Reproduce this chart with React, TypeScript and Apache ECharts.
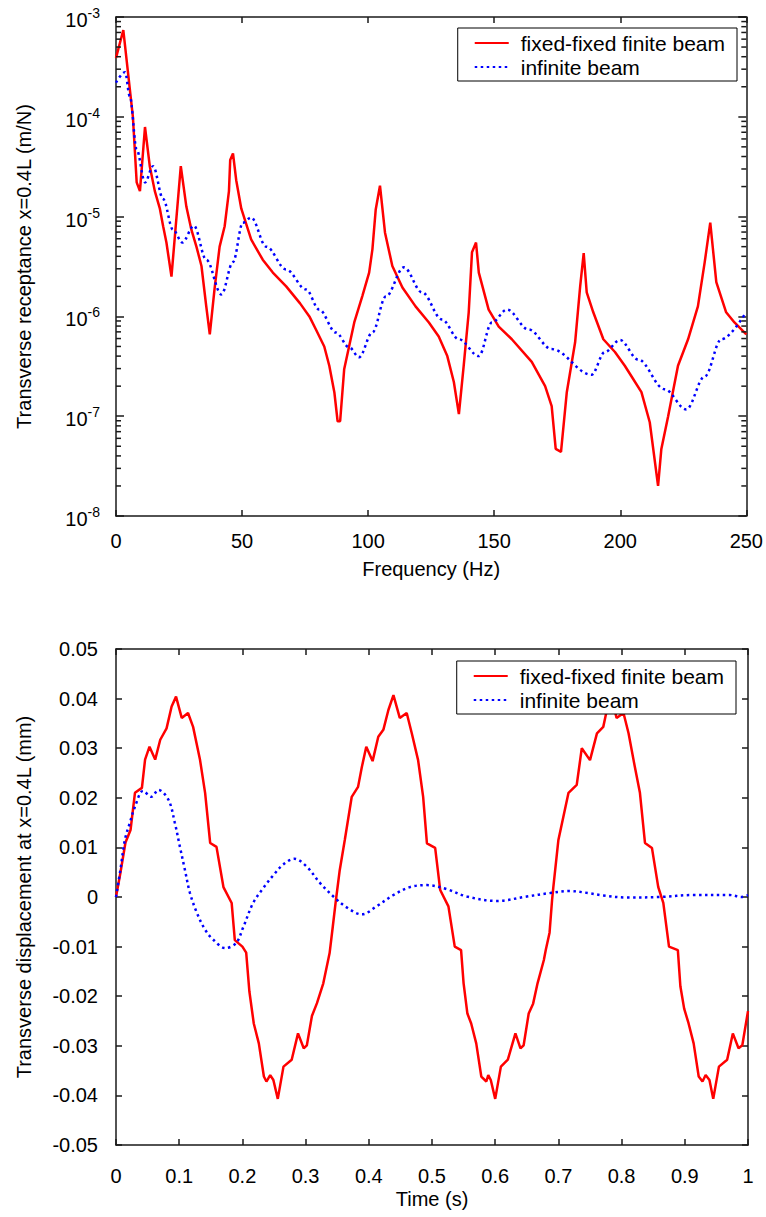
import React, { useEffect, useRef } from 'react';
import * as echarts from 'echarts';

// ---------- Top chart: frequency response (log scale) ----------
const freqTicks = [0, 50, 100, 150, 200, 250];
const legendNames = ['fixed-fixed finite beam', 'infinite beam'];

const finiteFRF: [number, number][] = [
  [0, 3.9e-4], [2.9, 7.4e-4], [6.7, 1.0e-4], [8.2, 2.2e-5], [9.5, 1.8e-5], [11.5, 7.9e-5],
  [13.4, 3.2e-5], [15.4, 1.8e-5], [17.4, 1.2e-5], [18.7, 8.0e-6], [20.0, 5.5e-6], [22.0, 2.5e-6],
  [25.7, 3.2e-5], [27.9, 1.26e-5], [29.9, 7.4e-6], [31.9, 5.0e-6], [33.9, 3.2e-6], [35.8, 1.26e-6],
  [37.2, 6.6e-7], [39.1, 1.9e-6], [41.1, 5.0e-6], [43.1, 8.0e-6], [44.8, 1.8e-5], [45.3, 3.7e-5],
  [46.4, 4.3e-5], [47.7, 2.3e-5], [49.7, 1.2e-5], [53.6, 5.9e-6], [58.2, 3.7e-6], [62.2, 2.75e-6],
  [67.5, 2.0e-6], [73.0, 1.35e-6], [76.7, 1.0e-6], [79.3, 7.4e-7], [82.6, 5.0e-7], [84.6, 3.2e-7],
  [86.6, 1.74e-7], [87.9, 8.9e-8], [88.9, 8.9e-8], [90.5, 2.95e-7], [94.5, 8.7e-7], [97.7, 1.6e-6],
  [100.4, 2.75e-6], [101.7, 4.7e-6], [103.0, 1.17e-5], [104.7, 2.04e-5], [106.7, 6.9e-6], [109.6, 3.2e-6],
  [113.6, 1.95e-6], [118.8, 1.26e-6], [124.1, 8.7e-7], [128.0, 6.3e-7], [131.4, 4.0e-7], [134.0, 2.2e-7],
  [136.0, 1.05e-7], [137.9, 3.2e-7], [139.9, 1.1e-6], [141.2, 4.4e-6], [142.8, 5.5e-6], [143.9, 2.75e-6],
  [147.8, 1.17e-6], [151.8, 7.9e-7], [157.0, 5.9e-7], [164.9, 3.5e-7], [170.2, 2.0e-7], [172.8, 1.26e-7],
  [174.4, 4.7e-8], [176.5, 4.4e-8], [178.8, 1.74e-7], [182.1, 5.5e-7], [184.1, 2.0e-6], [185.5, 4.3e-6],
  [186.7, 1.74e-6], [189.3, 1.1e-6], [193.3, 5.9e-7], [197.9, 4.4e-7], [201.8, 3.2e-7], [204.5, 2.5e-7],
  [208.4, 1.74e-7], [211.7, 8.7e-8], [215.0, 2.0e-8], [216.3, 4.7e-8], [219.0, 1.0e-7], [222.9, 3.2e-7],
  [226.9, 5.9e-7], [230.8, 1.26e-6], [233.5, 3.5e-6], [235.7, 8.7e-6], [238.1, 2.2e-6], [242.0, 1.1e-6],
  [245.3, 8.7e-7], [250.0, 6.6e-7],
];

const infiniteFRF: [number, number][] = [
  [0, 2.2e-4], [3.6, 2.8e-4], [5.5, 1.6e-4], [8.2, 4.7e-5], [11.5, 2.2e-5], [14.7, 3.2e-5],
  [18.7, 1.5e-5], [22.6, 7.4e-6], [26.3, 5.5e-6], [30.9, 8.1e-6], [35.8, 3.7e-6], [41.8, 1.66e-6],
  [46.4, 3.5e-6], [50.3, 8.7e-6], [53.6, 9.8e-6], [59.6, 5.0e-6], [67.5, 2.95e-6], [75.4, 1.86e-6],
  [80.6, 1.17e-6], [87.2, 6.9e-7], [92.5, 4.9e-7], [96.4, 3.9e-7], [101.7, 6.9e-7], [107.0, 1.58e-6],
  [114.2, 3.1e-6], [121.4, 1.74e-6], [129.3, 9.3e-7], [136.0, 5.9e-7], [143.9, 4.0e-7], [149.1, 8.7e-7],
  [155.1, 1.17e-6], [163.6, 7.4e-7], [172.8, 4.7e-7], [188.6, 2.6e-7], [193.9, 4.4e-7], [199.9, 5.8e-7],
  [207.1, 3.7e-7], [217.6, 1.86e-7], [226.2, 1.17e-7], [233.5, 2.5e-7], [240.1, 5.9e-7], [249.9, 1.1e-6],
];

// minor ticks of the log axis (2..9 x 10^n)
const minorTickValues: number[] = [
  2e-8, 3e-8, 4e-8, 5e-8, 6e-8, 7e-8, 8e-8, 9e-8,
  2e-7, 3e-7, 4e-7, 5e-7, 6e-7, 7e-7, 8e-7, 9e-7,
  2e-6, 3e-6, 4e-6, 5e-6, 6e-6, 7e-6, 8e-6, 9e-6,
  2e-5, 3e-5, 4e-5, 5e-5, 6e-5, 7e-5, 8e-5, 9e-5,
  2e-4, 3e-4, 4e-4, 5e-4, 6e-4, 7e-4, 8e-4, 9e-4,
];

// ---------- Bottom chart: time response ----------
const finiteDisp: [number, number][] = [
  [0, 0], [0.007, 0.0049], [0.015, 0.011], [0.023, 0.0135], [0.030, 0.021], [0.041, 0.022],
  [0.046, 0.0277], [0.053, 0.0303], [0.062, 0.0277], [0.070, 0.0317], [0.080, 0.034], [0.088, 0.0384],
  [0.095, 0.0404], [0.104, 0.0361], [0.114, 0.0371], [0.122, 0.0343], [0.133, 0.0276], [0.141, 0.021],
  [0.149, 0.0109], [0.159, 0.0101], [0.170, 0.002], [0.183, -0.0012], [0.188, -0.0087], [0.200, -0.010],
  [0.206, -0.0112], [0.211, -0.019], [0.218, -0.0255], [0.226, -0.0295], [0.234, -0.0362], [0.238, -0.0372],
  [0.244, -0.0359], [0.249, -0.0369], [0.256, -0.0407], [0.265, -0.0342], [0.278, -0.0328], [0.288, -0.0275],
  [0.297, -0.0305], [0.302, -0.0299], [0.310, -0.024], [0.318, -0.0214], [0.328, -0.0174], [0.338, -0.0113],
  [0.343, -0.006], [0.348, -0.0006], [0.354, 0.0054], [0.362, 0.0115], [0.373, 0.0202], [0.383, 0.0222],
  [0.389, 0.0262], [0.396, 0.0303], [0.406, 0.0274], [0.415, 0.0323], [0.423, 0.0337], [0.431, 0.0377],
  [0.439, 0.0407], [0.449, 0.0361], [0.460, 0.0371], [0.468, 0.033], [0.478, 0.0276], [0.486, 0.0202],
  [0.492, 0.0108], [0.505, 0.0099], [0.513, 0.0014], [0.526, -0.0019], [0.536, -0.010], [0.546, -0.0107],
  [0.550, -0.0174], [0.556, -0.0235], [0.562, -0.0255], [0.570, -0.0295], [0.578, -0.0362], [0.586, -0.0372],
  [0.589, -0.0359], [0.593, -0.0369], [0.600, -0.0407], [0.609, -0.0342], [0.620, -0.0328], [0.632, -0.0275],
  [0.640, -0.0305], [0.645, -0.0299], [0.653, -0.0235], [0.660, -0.0215], [0.667, -0.0174], [0.677, -0.0127],
  [0.680, -0.0107], [0.686, -0.0072], [0.690, -0.0006], [0.692, 0.002], [0.700, 0.0115], [0.716, 0.021],
  [0.729, 0.0226], [0.737, 0.030], [0.750, 0.0276], [0.761, 0.033], [0.771, 0.0343], [0.776, 0.0373],
  [0.784, 0.0405], [0.792, 0.0361], [0.803, 0.0371], [0.811, 0.033], [0.821, 0.0262], [0.829, 0.021],
  [0.837, 0.0109], [0.848, 0.0099], [0.858, 0.002], [0.866, -0.0012], [0.875, -0.010], [0.889, -0.0107],
  [0.893, -0.018], [0.899, -0.0225], [0.906, -0.0255], [0.914, -0.0295], [0.922, -0.0362], [0.928, -0.0372],
  [0.933, -0.0359], [0.939, -0.0369], [0.945, -0.0407], [0.954, -0.0342], [0.967, -0.0328], [0.976, -0.0275],
  [0.985, -0.0305], [0.991, -0.0299], [1.0, -0.023],
];

const infiniteDisp: [number, number][] = [
  [0, 0], [0.007, 0.0055], [0.014, 0.0115], [0.022, 0.015], [0.030, 0.0182], [0.043, 0.0214],
  [0.056, 0.0202], [0.067, 0.0216], [0.083, 0.0196], [0.093, 0.015], [0.101, 0.0102], [0.109, 0.0055],
  [0.117, 0.0008], [0.128, -0.0032], [0.141, -0.0066], [0.153, -0.0085], [0.173, -0.0103], [0.190, -0.0093],
  [0.201, -0.0062], [0.217, -0.0012], [0.233, 0.0018], [0.249, 0.0044], [0.265, 0.0066], [0.282, 0.0077],
  [0.302, 0.0061], [0.323, 0.0028], [0.344, 0.0001], [0.365, -0.0021], [0.389, -0.0035], [0.412, -0.0019],
  [0.439, 0.0004], [0.465, 0.002], [0.492, 0.0024], [0.523, 0.0016], [0.555, 0.0001], [0.602, -0.0008],
  [0.650, 0.0001], [0.687, 0.0008], [0.718, 0.0012], [0.747, 0.0008], [0.771, 0.0003], [0.808, -0.0001],
  [0.861, 0.0], [0.913, 0.0004], [0.971, 0.0004], [0.990, 0.0], [1.0, 0.0004],
];

const FONT = 'Liberation Sans, Arial, Helvetica, sans-serif';
const AXIS_COLOR = '#1a1a1a';
const RED = '#ff0000';
const BLUE = '#0000ff';

function buildOption(): any {
  const axisLine = { show: true, onZero: false, lineStyle: { color: AXIS_COLOR, width: 1.5 } };
  const tickIn = (len: number) => ({ show: true, inside: true, length: len, lineStyle: { color: AXIS_COLOR, width: 1.5 } });
  const labelStyle = { color: '#000', fontSize: 20, fontFamily: FONT };

  const legendCommon = {
    orient: 'vertical',
    data: legendNames,
    backgroundColor: '#fff',
    borderColor: '#000',
    borderWidth: 1,
    itemWidth: 34,
    itemHeight: 14,
    itemGap: 2,
    selectedMode: false,
    itemStyle: { opacity: 0 },
    textStyle: { color: '#000', fontSize: 21, fontFamily: FONT, lineHeight: 22, padding: [0, 0, 0, 7] },
    padding: [4, 12, 3, 16],
    z: 20,
  };

  return {
    animation: false,
    backgroundColor: '#fff',
    textStyle: { fontFamily: FONT },
    grid: [
      { left: 116, top: 17, width: 632, height: 499, containLabel: false },
      { left: 116, top: 649, width: 632, height: 496, containLabel: false },
    ],
    legend: [
      { ...legendCommon, right: 29, top: 28 },
      { ...legendCommon, right: 30, top: 661 },
    ],
    xAxis: [
      {
        gridIndex: 0, type: 'value', min: freqTicks[0], max: freqTicks[freqTicks.length - 1], interval: 50,
        position: 'bottom', axisLine, axisTick: tickIn(6), splitLine: { show: false },
        axisLabel: { ...labelStyle, margin: 15 },
        name: 'Frequency (Hz)', nameLocation: 'middle', nameGap: 43,
        nameTextStyle: { color: '#000', fontSize: 20, fontFamily: FONT },
      },
      {
        gridIndex: 0, type: 'value', min: 0, max: 250, interval: 50, position: 'top',
        axisLine, axisTick: tickIn(6), axisLabel: { show: false }, splitLine: { show: false },
      },
      {
        gridIndex: 1, type: 'value', min: 0, max: 1, interval: 0.1, position: 'bottom',
        axisLine, axisTick: tickIn(6), splitLine: { show: false },
        axisLabel: {
          ...labelStyle, margin: 21,
          formatter: (v: number) => (Math.abs(v) < 1e-9 ? '0' : Math.abs(v - 1) < 1e-9 ? '1' : v.toFixed(1)),
        },
        name: 'Time (s)', nameLocation: 'middle', nameGap: 44,
        nameTextStyle: { color: '#000', fontSize: 20, fontFamily: FONT },
      },
      {
        gridIndex: 1, type: 'value', min: 0, max: 1, interval: 0.1, position: 'top',
        axisLine, axisTick: tickIn(6), axisLabel: { show: false }, splitLine: { show: false },
      },
    ],
    yAxis: [
      {
        gridIndex: 0, type: 'log', logBase: 10, min: 1e-8, max: 1e-3, position: 'left',
        axisLine, axisTick: tickIn(8), splitLine: { show: false }, minorTick: { show: false },
        axisLabel: {
          margin: 16,
          formatter: (v: number) => `{b|10}{s|${Math.round(Math.log10(v))}}`,
          rich: {
            b: { fontSize: 20, fontFamily: FONT, color: '#000', padding: [6, 0, 0, 0] },
            s: { fontSize: 14, fontFamily: FONT, color: '#000', padding: [0, 0, 8, 0] },
          },
        },
        name: 'Transverse receptance x=0.4L (m/N)', nameLocation: 'middle', nameGap: 82,
        nameTextStyle: { color: '#000', fontSize: 20, fontFamily: FONT },
      },
      {
        gridIndex: 0, type: 'log', logBase: 10, min: 1e-8, max: 1e-3, position: 'right',
        axisLine, axisTick: tickIn(8), axisLabel: { show: false }, splitLine: { show: false },
      },
      {
        gridIndex: 1, type: 'value', min: -0.05, max: 0.05, interval: 0.01, position: 'left',
        axisLine, axisTick: tickIn(6), splitLine: { show: false },
        axisLabel: {
          ...labelStyle, margin: 18,
          formatter: (v: number) => (Math.abs(v) < 1e-9 ? '0' : v.toFixed(2)),
        },
        name: 'Transverse displacement at x=0.4L (mm)', nameLocation: 'middle', nameGap: 82,
        nameTextStyle: { color: '#000', fontSize: 20, fontFamily: FONT },
      },
      {
        gridIndex: 1, type: 'value', min: -0.05, max: 0.05, interval: 0.01, position: 'right',
        axisLine, axisTick: tickIn(6), axisLabel: { show: false }, splitLine: { show: false },
      },
    ],
    series: [
      {
        name: legendNames[0], type: 'line', xAxisIndex: 0, yAxisIndex: 0, data: finiteFRF,
        symbol: 'none', lineStyle: { color: RED, width: 2.5 }, itemStyle: { color: RED }, z: 3,
      },
      {
        name: legendNames[1], type: 'line', xAxisIndex: 0, yAxisIndex: 0, data: infiniteFRF,
        symbol: 'none', smooth: 0.35, smoothMonotone: 'x',
        lineStyle: { color: BLUE, width: 2.5, type: [2.5, 3.5] }, itemStyle: { color: BLUE }, z: 4,
      },
      {
        name: legendNames[0], type: 'line', xAxisIndex: 2, yAxisIndex: 2, data: finiteDisp,
        symbol: 'none', lineStyle: { color: RED, width: 2.5 }, itemStyle: { color: RED }, z: 3,
      },
      {
        name: legendNames[1], type: 'line', xAxisIndex: 2, yAxisIndex: 2, data: infiniteDisp,
        symbol: 'none', smooth: 0.35,
        lineStyle: { color: BLUE, width: 2.5, type: [2.5, 3.5] }, itemStyle: { color: BLUE }, z: 4,
      },
      {
        name: 'minor', type: 'custom', xAxisIndex: 0, yAxisIndex: 0, silent: true, clip: false,
        data: minorTickValues.map((v) => [0, v]),
        encode: { x: 0, y: 1 },
        renderItem: (_params: any, api: any) => {
          const v = api.value(1);
          const l = api.coord([0, v]);
          const r = api.coord([250, v]);
          const style = { stroke: AXIS_COLOR, lineWidth: 1.5 };
          return {
            type: 'group',
            children: [
              { type: 'line', shape: { x1: l[0], y1: l[1], x2: l[0] + 5, y2: l[1] }, style },
              { type: 'line', shape: { x1: r[0] - 5, y1: r[1], x2: r[0], y2: r[1] }, style },
            ],
          };
        },
        z: 5,
      },
    ],
  };
}

export default function App() {
  const ref = useRef<HTMLDivElement>(null);
  useEffect(() => {
    if (!ref.current) return;
    const chart = echarts.init(ref.current, null, { renderer: 'svg' });
    chart.setOption(buildOption());
    return () => chart.dispose();
  }, []);
  return (
    <div
      ref={ref}
      style={{ position: 'absolute', left: 0, top: 0, width: 766, height: 1217, background: '#fff' }}
    />
  );
}
